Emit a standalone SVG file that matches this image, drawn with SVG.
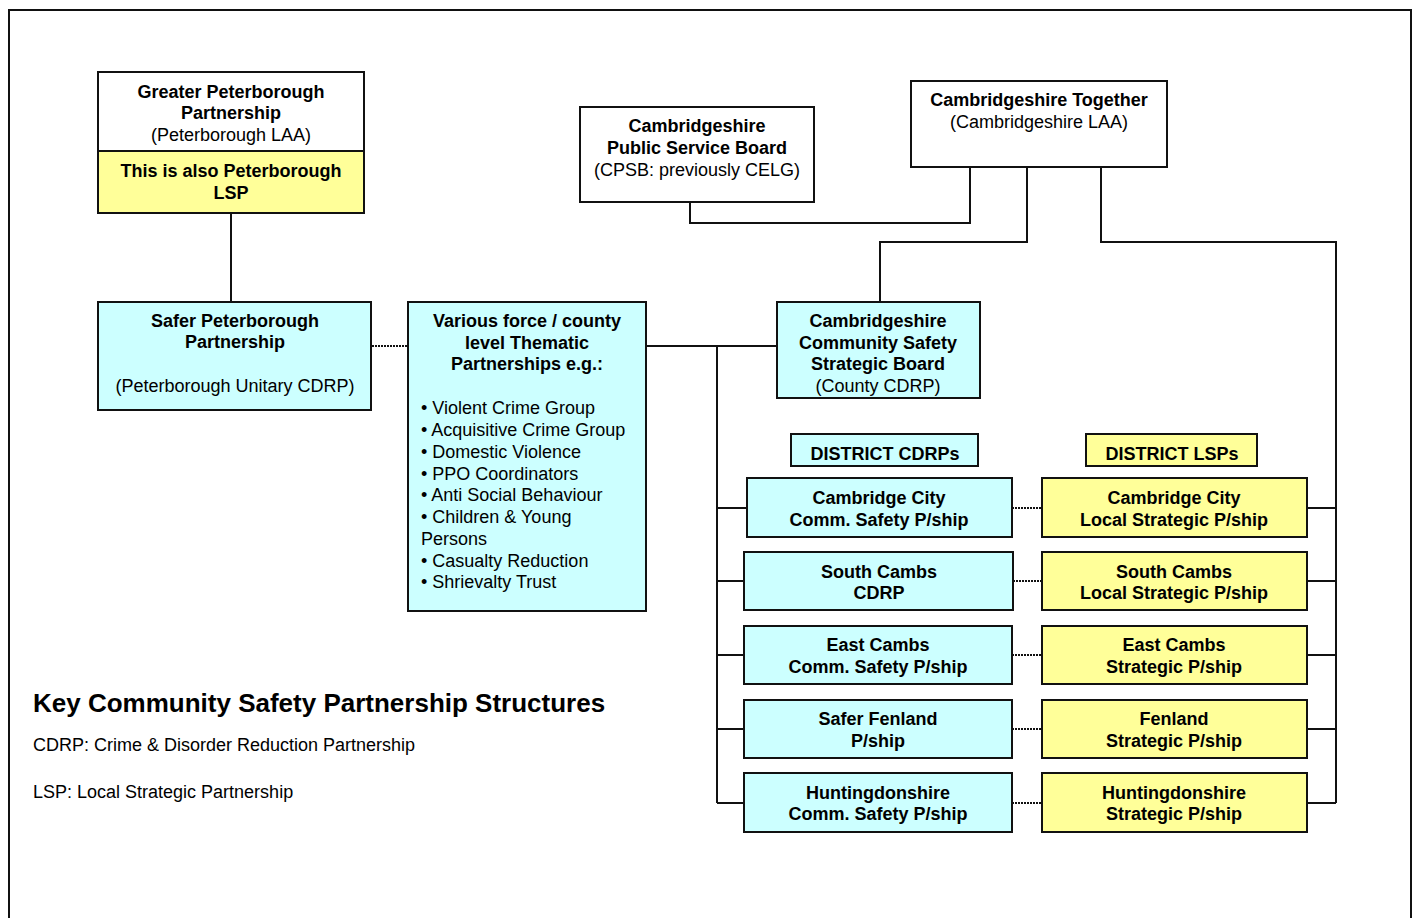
<svg xmlns="http://www.w3.org/2000/svg" width="1417" height="918" viewBox="0 0 1417 918">
<style>
text{font-family:"Liberation Sans",Arial,sans-serif;font-size:18px;fill:#000;text-anchor:middle}
.b{font-weight:bold}
.l{text-anchor:start}
.box{stroke:#111;stroke-width:2}
.w{fill:#fff}.c{fill:#ccffff}.y{fill:#ffff99}
.ln{fill:none;stroke:#111;stroke-width:2}
.dt{fill:none;stroke:#111;stroke-width:2;stroke-dasharray:2 1}
</style>
<rect width="1417" height="918" fill="#fff"/>
<path d="M9 918V10H1411V918" fill="none" stroke="#111" stroke-width="2"/>
<g id="connectors">
<path class="ln" d="M231 213V302"/>
<path class="dt" d="M372 346H408"/>
<path class="ln" d="M646 346H777M717 346V803M717 508H747M717 581H744M717 655H744M717 729H744M717 803H744"/>
<path class="ln" d="M690 202V223H970V167"/>
<path class="ln" d="M1027 167V242H880V302"/>
<path class="ln" d="M1101 167V242H1336V803M1307 508H1336M1307 581H1336M1307 655H1336M1307 729H1336M1307 803H1336"/>
<path class="dt" d="M1012 508H1042M1013 581H1042M1012 655H1042M1012 729H1042M1012 803H1042"/>
</g>
<g id="greater-peterborough">
<rect class="box w" x="98" y="72" width="266" height="79"/>
<rect class="box y" x="98" y="151" width="266" height="62"/>
<text class="b" x="231" y="98">Greater Peterborough</text>
<text class="b" x="231" y="119">Partnership</text>
<text x="231" y="141">(Peterborough LAA)</text>
<text class="b" x="231" y="177">This is also Peterborough</text>
<text class="b" x="231" y="199">LSP</text>
</g>
<g id="safer-peterborough">
<rect class="box c" x="98" y="302" width="273" height="108"/>
<text class="b" x="235" y="327">Safer Peterborough</text>
<text class="b" x="235" y="348">Partnership</text>
<text x="235" y="392">(Peterborough Unitary CDRP)</text>
</g>
<g id="thematic">
<rect class="box c" x="408" y="302" width="238" height="309"/>
<text class="b" x="527" y="327">Various force / county</text>
<text class="b" x="527" y="349">level Thematic</text>
<text class="b" x="527" y="370">Partnerships e.g.:</text>
<text class="l" x="421" y="414">• Violent Crime Group</text>
<text class="l" x="421" y="436">• Acquisitive Crime Group</text>
<text class="l" x="421" y="458">• Domestic Violence</text>
<text class="l" x="421" y="480">• PPO Coordinators</text>
<text class="l" x="421" y="501">• Anti Social Behaviour</text>
<text class="l" x="421" y="523">• Children &amp; Young</text>
<text class="l" x="421" y="545">Persons</text>
<text class="l" x="421" y="567">• Casualty Reduction</text>
<text class="l" x="421" y="588">• Shrievalty Trust</text>
</g>
<g id="cpsb">
<rect class="box w" x="580" y="107" width="234" height="95"/>
<text class="b" x="697" y="132">Cambridgeshire</text>
<text class="b" x="697" y="154">Public Service Board</text>
<text x="697" y="176">(CPSB: previously CELG)</text>
</g>
<g id="cambs-together">
<rect class="box w" x="911" y="81" width="256" height="86"/>
<text class="b" x="1039" y="106">Cambridgeshire Together</text>
<text x="1039" y="128">(Cambridgeshire LAA)</text>
</g>
<g id="county-cdrp">
<rect class="box c" x="777" y="302" width="203" height="96"/>
<text class="b" x="878" y="327">Cambridgeshire</text>
<text class="b" x="878" y="349">Community Safety</text>
<text class="b" x="878" y="370">Strategic Board</text>
<text x="878" y="392">(County CDRP)</text>
</g>
<g id="district-cdrps">
<rect class="box c" x="791" y="434" width="187" height="32"/>
<text class="b" x="885" y="460">DISTRICT CDRPs</text>
</g>
<g id="district-lsps">
<rect class="box y" x="1086" y="434" width="171" height="32"/>
<text class="b" x="1172" y="460">DISTRICT LSPs</text>
</g>
<g id="cdrp-cambridge">
<rect class="box c" x="747" y="478" width="265" height="59"/>
<text class="b" x="879" y="504">Cambridge City</text>
<text class="b" x="879" y="526">Comm. Safety P/ship</text>
</g>
<g id="cdrp-south">
<rect class="box c" x="744" y="552" width="269" height="58"/>
<text class="b" x="879" y="578">South Cambs</text>
<text class="b" x="879" y="599">CDRP</text>
</g>
<g id="cdrp-east">
<rect class="box c" x="744" y="626" width="268" height="58"/>
<text class="b" x="878" y="651">East Cambs</text>
<text class="b" x="878" y="673">Comm. Safety P/ship</text>
</g>
<g id="cdrp-fenland">
<rect class="box c" x="744" y="700" width="268" height="58"/>
<text class="b" x="878" y="725">Safer Fenland</text>
<text class="b" x="878" y="747">P/ship</text>
</g>
<g id="cdrp-hunts">
<rect class="box c" x="744" y="773" width="268" height="59"/>
<text class="b" x="878" y="799">Huntingdonshire</text>
<text class="b" x="878" y="820">Comm. Safety P/ship</text>
</g>
<g id="lsp-cambridge">
<rect class="box y" x="1042" y="478" width="265" height="59"/>
<text class="b" x="1174" y="504">Cambridge City</text>
<text class="b" x="1174" y="526">Local Strategic P/ship</text>
</g>
<g id="lsp-south">
<rect class="box y" x="1042" y="552" width="265" height="58"/>
<text class="b" x="1174" y="578">South Cambs</text>
<text class="b" x="1174" y="599">Local Strategic P/ship</text>
</g>
<g id="lsp-east">
<rect class="box y" x="1042" y="626" width="265" height="58"/>
<text class="b" x="1174" y="651">East Cambs</text>
<text class="b" x="1174" y="673">Strategic P/ship</text>
</g>
<g id="lsp-fenland">
<rect class="box y" x="1042" y="700" width="265" height="58"/>
<text class="b" x="1174" y="725">Fenland</text>
<text class="b" x="1174" y="747">Strategic P/ship</text>
</g>
<g id="lsp-hunts">
<rect class="box y" x="1042" y="773" width="265" height="59"/>
<text class="b" x="1174" y="799">Huntingdonshire</text>
<text class="b" x="1174" y="820">Strategic P/ship</text>
</g>
<g id="key">
<text class="b l" x="33" y="712" style="font-size:26px">Key Community Safety Partnership Structures</text>
<text class="l" x="33" y="751">CDRP: Crime &amp; Disorder Reduction Partnership</text>
<text class="l" x="33" y="798">LSP: Local Strategic Partnership</text>
</g>
</svg>
